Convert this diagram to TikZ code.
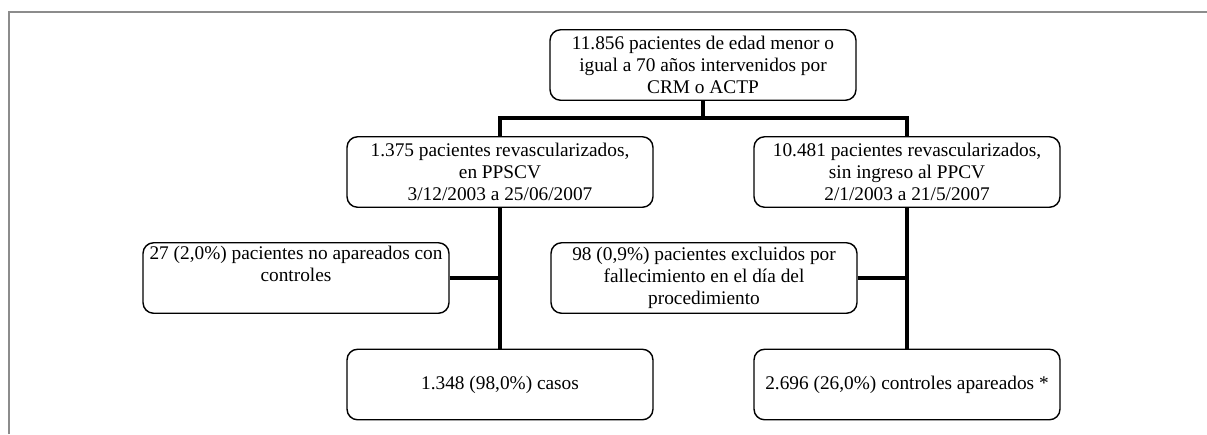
\documentclass[tikz,border=0pt]{standalone}
\usepackage{fontspec}
\setmainfont{Liberation Serif}
\begin{document}
\begin{tikzpicture}[x=0.02cm,y=-0.02cm,
    flowbox/.style={draw, line width=0.8pt, rounded corners=6pt,
      minimum width=6.12cm, minimum height=1.41cm, inner sep=0pt,
      align=center, font=\fontsize{11}{12.4}\selectfont},
    link/.style={line width=2.8pt}]
        \useasboundingbox (0,0) rectangle (1207,434);
        \draw [gray!90, line width=0.8pt] (9,434) -- (9,12) -- (1207,12);

        \node [flowbox] (total) at (703,65)
          {11.856 pacientes de edad menor o\\igual a 70 años intervenidos por\\CRM o ACTP};

        \node [flowbox] (ppscv) at (500,172)
          {1.375 pacientes revascularizados,\\en PPSCV\\3/12/2003 a 25/06/2007};
        \node [flowbox] (noppcv) at (907,172)
          {10.481 pacientes revascularizados,\\sin ingreso al PPCV\\2/1/2003 a 21/5/2007};

        \node [flowbox] (noapar) at (296,278)
          {27 (2,0\%) pacientes no apareados con\\controles\\\strut};
        \node [flowbox] (fallec) at (704,278)
          {98 (0,9\%) pacientes excluidos por\\fallecimiento en el día del\\procedimiento};

        \node [flowbox] (casos) at (500,384.5) {1.348 (98,0\%) casos};
        \node [flowbox] (controles) at (907,384.5) {2.696 (26,0\%) controles apareados *};

        \coordinate (split) at (703,118);
        \draw [link] (total.south) -- (split);
        \draw [link] (ppscv.north) |- (split) -| (noppcv.north);

        \draw [link] (ppscv.south) -- (casos.north);
        \draw [link] (noppcv.south) -- (controles.north);

        \draw [link] (noapar.east) -- (noapar.east -| ppscv.south);
        \draw [link] (fallec.east) -- (fallec.east -| noppcv.south);
      \end{tikzpicture}
\end{document}
